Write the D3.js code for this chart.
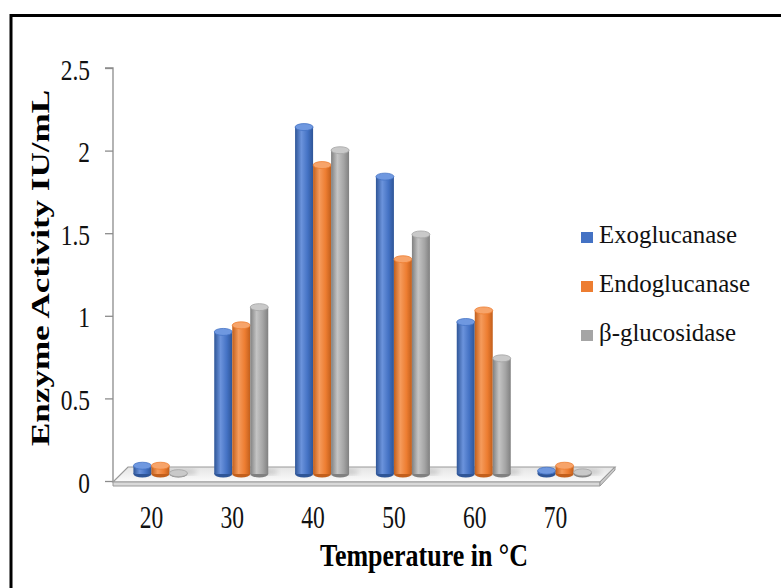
<!DOCTYPE html>
<html>
<head>
<meta charset="utf-8">
<script src="https://d3js.org/d3.v7.min.js"></script>
<style>
  body { margin:0; background:#fff; }
  svg { display:block; }
  .y.axis path, .y.axis line { stroke:#8c8c8c; stroke-width:1.3; }
</style>
</head>
<body>
<script>
// data
var temps = ["20", "30", "40", "50", "60", "70"];
var series = ["Exoglucanase", "Endoglucanase", "β-glucosidase"];
var exo  = [0.05, 0.86, 2.10, 1.80, 0.92, 0.02];
var endo = [0.05, 0.90, 1.87, 1.30, 0.99, 0.05];
var bglu = [0.005, 1.01, 1.96, 1.45, 0.70, 0.01];
var yTicks = [0, 0.5, 1, 1.5, 2, 2.5];

var values = [exo, endo, bglu];
var colors = [
  {main:"#4472c4", dark:"#2e5597", light:"#6b93dc", top:"#6f98e0"},
  {main:"#ed7d31", dark:"#c25f1c", light:"#f59b5c", top:"#f7a46a"},
  {main:"#a5a5a5", dark:"#808080", light:"#c4c4c4", top:"#c9c9c9"}
];
var serif = "'Liberation Serif', 'Times New Roman', serif";

var W = 781, H = 588;
var dx = 8, dy = -7;   // depth shift of the bars on the floor

var svg = d3.select("body").append("svg").attr("width", W).attr("height", H);
var defs = svg.append("defs");

colors.forEach(function(c, i) {
  var g = defs.append("linearGradient").attr("id", "cyl" + i)
      .attr("x1", "0").attr("x2", "1").attr("y1", "0").attr("y2", "0");
  g.append("stop").attr("offset", "0").attr("stop-color", c.dark);
  g.append("stop").attr("offset", "0.35").attr("stop-color", c.light);
  g.append("stop").attr("offset", "0.7").attr("stop-color", c.main);
  g.append("stop").attr("offset", "1").attr("stop-color", c.dark);
});
var fg = defs.append("linearGradient").attr("id", "floor")
    .attr("x1", "0").attr("x2", "0").attr("y1", "0").attr("y2", "1");
fg.append("stop").attr("offset", "0").attr("stop-color", "#e4e4e4");
fg.append("stop").attr("offset", "1").attr("stop-color", "#fbfbfb");
defs.append("filter").attr("id", "blur").append("feGaussianBlur").attr("stdDeviation", 2.5);

// frame
svg.append("path").attr("d", "M11,600 V15.5 H800")
  .attr("fill", "none").attr("stroke", "#000").attr("stroke-width", 3);

var y = d3.scaleLinear().domain([0, 2.5]).range([481, 68]);
var x0 = d3.scaleBand().domain(temps).range([112, 597]);
var x1 = d3.scaleBand().domain(d3.range(3)).range([0, 54]);

// y axis
var gy = svg.append("g").attr("class", "y axis").attr("transform", "translate(113,0)")
  .call(d3.axisLeft(y).tickValues(yTicks).tickSize(8).tickFormat(function(d) { return d; }));
gy.select(".domain").attr("d", "M-8," + y(2.5) + "H0V" + (y(0) + 1));
gy.selectAll(".tick text")
  .style("font-family", serif).style("font-size", "30px").attr("fill", "#111")
  .attr("x", -23 / 0.78).attr("dy", 0).attr("y", 11)
  .attr("transform", "scale(0.78,1)");

// floor
var fx0 = x0.range()[0] + 1, fx1 = x0.range()[1] + 3, fy = y(0) + 1;
svg.append("path")
  .attr("d", "M" + fx0 + "," + fy + "L" + fx1 + "," + fy + "L" + (fx1 + 15) + "," + (fy - 15) +
             "L" + (fx0 + 15) + "," + (fy - 15) + "Z")
  .attr("fill", "url(#floor)").attr("stroke", "#9a9a9a").attr("stroke-width", 1.2);
svg.append("path")
  .attr("d", "M" + fx0 + "," + fy + "L" + fx1 + "," + fy + "L" + fx1 + "," + (fy + 4) +
             "L" + fx0 + "," + (fy + 4) + "Z")
  .attr("fill", "#d9d9d9").attr("stroke", "#9a9a9a").attr("stroke-width", 1);
svg.append("path")
  .attr("d", "M" + fx1 + "," + fy + "L" + (fx1 + 15) + "," + (fy - 15) + "L" + (fx1 + 15) + "," + (fy - 12) +
             "L" + fx1 + "," + (fy + 4) + "Z")
  .attr("fill", "#c8c8c8").attr("stroke", "#9a9a9a").attr("stroke-width", 1);

// bars as cylinders
var rx = x1.bandwidth() / 2, ry = 3.5;
var bars = [];
temps.forEach(function(t, i) {
  values.forEach(function(vals, s) {
    bars.push({t: t, s: s, v: vals[i]});
  });
});
var base = y(0) + dy;

var gb = svg.append("g");
// soft shadows on the floor
gb.selectAll(".shadow").data(bars).enter().append("ellipse")
  .attr("cx", function(d) { return x0(d.t) + x0.bandwidth() / 2 - 27 + dx + x1(d.s) + rx + 7; })
  .attr("cy", base - 2)
  .attr("rx", rx + 3).attr("ry", 3)
  .attr("fill", "#9a9a9a").attr("opacity", 0.45).attr("filter", "url(#blur)");

var cyl = gb.selectAll(".cyl").data(bars).enter().append("g").attr("class", "cyl")
  .attr("transform", function(d) {
    return "translate(" + (x0(d.t) + x0.bandwidth() / 2 - 27 + dx + x1(d.s)) + ",0)";
  });
cyl.append("ellipse")
  .attr("cx", rx).attr("cy", base).attr("rx", rx).attr("ry", ry)
  .attr("fill", function(d) { return colors[d.s].dark; });
cyl.append("rect")
  .attr("x", 0).attr("width", 2 * rx)
  .attr("y", function(d) { return y(d.v) + dy; })
  .attr("height", function(d) { return base - (y(d.v) + dy); })
  .attr("fill", function(d) { return "url(#cyl" + d.s + ")"; });
cyl.append("ellipse")
  .attr("cx", rx).attr("cy", function(d) { return y(d.v) + dy; })
  .attr("rx", rx).attr("ry", ry)
  .attr("fill", function(d) { return colors[d.s].top; })
  .attr("stroke", function(d) { return colors[d.s].main; }).attr("stroke-width", 0.8);

// x axis labels
var gx = svg.append("g").attr("class", "x axis").attr("transform", "translate(0," + y(0) + ")")
  .call(d3.axisBottom(x0).tickSize(0));
gx.select(".domain").remove();
gx.selectAll(".tick").attr("transform", function(d) {
  return "translate(" + (x0(d) + x0.bandwidth() / 2 - 1) + ",0)";
});
gx.selectAll(".tick text")
  .style("font-family", serif).style("font-size", "31px").attr("fill", "#111")
  .attr("y", 47).attr("dy", 0).attr("x", 0)
  .attr("transform", "scale(0.76,1)");

// axis titles
svg.append("text")
  .attr("x", 424).attr("y", 566).attr("text-anchor", "middle")
  .style("font-family", serif).style("font-weight", "bold").style("font-size", "31px")
  .attr("textLength", 208).attr("lengthAdjust", "spacingAndGlyphs")
  .text("Temperature in °C");
svg.append("text")
  .attr("transform", "translate(49,268) rotate(-90)").attr("text-anchor", "middle")
  .style("font-family", serif).style("font-weight", "bold").style("font-size", "25px")
  .attr("textLength", 356).attr("lengthAdjust", "spacingAndGlyphs")
  .text("Enzyme Activity IU/mL");

// legend
var legW = [138, 151, 137];
var lg = svg.append("g").attr("transform", "translate(581,232)");
var li = lg.selectAll("g").data(series).enter().append("g")
  .attr("transform", function(d, i) { return "translate(0," + (i * 49) + ")"; });
li.append("rect").attr("width", 12).attr("height", 11)
  .attr("fill", function(d, i) { return colors[i].main; });
li.append("text").attr("x", 18).attr("y", 11)
  .style("font-family", serif).style("font-size", "25px").attr("fill", "#111")
  .attr("textLength", function(d, i) { return legW[i]; }).attr("lengthAdjust", "spacingAndGlyphs")
  .text(function(d) { return d; });
</script>
</body>
</html>
